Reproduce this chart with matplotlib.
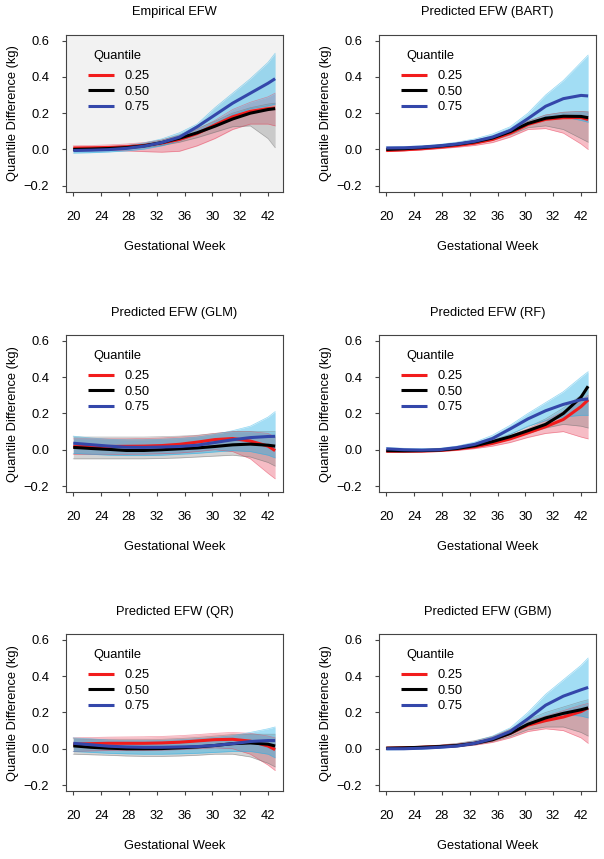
import numpy as np
import matplotlib
matplotlib.use("Agg")
import matplotlib.pyplot as plt

plt.rcParams['font.family'] = ['Liberation Sans', 'DejaVu Sans']

# gestational week grid (axis positions) for all curves
weeks = [20, 22, 24, 26, 28, 30, 32, 34, 36, 38, 40, 42, 42.8]
tick_labels = ['20', '24', '28', '32', '36', '30', '32', '42']
quantiles = ['0.25', '0.50', '0.75']

# ---- Empirical EFW ----
emp_q25 = [0.008, 0.009, 0.011, 0.015, 0.022, 0.035, 0.055, 0.088, 0.135, 0.18, 0.21, 0.225, 0.228]
emp_q50 = [0.0, 0.002, 0.005, 0.01, 0.02, 0.038, 0.062, 0.092, 0.128, 0.168, 0.2, 0.22, 0.225]
emp_q75 = [-0.006, -0.004, -0.001, 0.006, 0.018, 0.038, 0.068, 0.125, 0.19, 0.255, 0.31, 0.365, 0.39]
emp_q25_lo = [-0.005, -0.005, -0.006, -0.008, -0.012, -0.015, -0.01, 0.02, 0.06, 0.11, 0.14, 0.14, 0.13]
emp_q25_hi = [0.02, 0.022, 0.025, 0.03, 0.038, 0.052, 0.075, 0.11, 0.16, 0.22, 0.26, 0.29, 0.31]
emp_q50_lo = [-0.005, -0.004, -0.002, 0.002, 0.01, 0.022, 0.04, 0.065, 0.095, 0.125, 0.13, 0.06, 0.01]
emp_q50_hi = [0.008, 0.01, 0.013, 0.02, 0.032, 0.052, 0.08, 0.115, 0.155, 0.2, 0.23, 0.25, 0.255]
emp_q75_lo = [-0.02, -0.018, -0.014, -0.008, 0.002, 0.02, 0.048, 0.085, 0.14, 0.19, 0.225, 0.24, 0.25]
emp_q75_hi = [0.006, 0.01, 0.014, 0.022, 0.036, 0.058, 0.092, 0.14, 0.23, 0.31, 0.39, 0.48, 0.53]

# ---- Predicted EFW (BART) ----
bart_q25 = [-0.006, -0.002, 0.004, 0.012, 0.022, 0.035, 0.055, 0.09, 0.138, 0.166, 0.175, 0.176, 0.165]
bart_q50 = [0.0, 0.004, 0.01, 0.018, 0.028, 0.042, 0.063, 0.098, 0.143, 0.172, 0.183, 0.182, 0.175]
bart_q75 = [0.008, 0.009, 0.013, 0.02, 0.03, 0.045, 0.068, 0.105, 0.17, 0.238, 0.28, 0.298, 0.295]
bart_q25_lo = [-0.012, -0.008, -0.003, 0.004, 0.012, 0.022, 0.038, 0.068, 0.11, 0.115, 0.09, 0.03, 0.0]
bart_q25_hi = [0.004, 0.006, 0.012, 0.02, 0.03, 0.046, 0.07, 0.11, 0.155, 0.19, 0.205, 0.21, 0.205]
bart_q50_lo = [-0.006, -0.002, 0.004, 0.01, 0.02, 0.032, 0.05, 0.08, 0.12, 0.13, 0.11, 0.06, 0.04]
bart_q50_hi = [0.006, 0.01, 0.016, 0.024, 0.034, 0.05, 0.072, 0.11, 0.155, 0.19, 0.205, 0.21, 0.21]
bart_q75_lo = [0.0, 0.002, 0.006, 0.012, 0.022, 0.034, 0.055, 0.09, 0.14, 0.18, 0.18, 0.16, 0.15]
bart_q75_hi = [0.014, 0.016, 0.02, 0.028, 0.04, 0.058, 0.085, 0.125, 0.2, 0.3, 0.38, 0.48, 0.52]

# ---- Predicted EFW (GLM) ----
glm_q25 = [0.017, 0.018, 0.018, 0.019, 0.02, 0.023, 0.03, 0.042, 0.056, 0.062, 0.048, 0.02, -0.005]
glm_q50 = [0.013, 0.007, 0.002, -0.004, -0.004, 0.0, 0.005, 0.01, 0.018, 0.027, 0.031, 0.025, 0.02]
glm_q75 = [0.036, 0.028, 0.02, 0.014, 0.013, 0.015, 0.018, 0.025, 0.04, 0.055, 0.067, 0.073, 0.074]
glm_q25_lo = [-0.025, -0.025, -0.025, -0.025, -0.024, -0.022, -0.018, -0.01, 0.0, -0.01, -0.05, -0.13, -0.16]
glm_q25_hi = [0.06, 0.06, 0.06, 0.06, 0.062, 0.065, 0.07, 0.078, 0.09, 0.1, 0.1, 0.09, 0.07]
glm_q50_lo = [-0.05, -0.05, -0.05, -0.05, -0.05, -0.048, -0.045, -0.04, -0.035, -0.03, -0.04, -0.07, -0.09]
glm_q50_hi = [0.07, 0.07, 0.07, 0.07, 0.07, 0.072, 0.075, 0.08, 0.09, 0.1, 0.1, 0.1, 0.1]
glm_q75_lo = [-0.02, -0.025, -0.03, -0.032, -0.032, -0.03, -0.025, -0.02, -0.012, -0.005, -0.01, -0.03, -0.045]
glm_q75_hi = [0.075, 0.065, 0.058, 0.055, 0.055, 0.058, 0.062, 0.07, 0.085, 0.105, 0.13, 0.18, 0.21]

# ---- Predicted EFW (RF) ----
rf_q25 = [-0.008, -0.008, -0.007, -0.004, 0.004, 0.016, 0.035, 0.06, 0.093, 0.127, 0.167, 0.238, 0.275]
rf_q50 = [-0.005, -0.006, -0.005, -0.002, 0.007, 0.022, 0.045, 0.072, 0.105, 0.14, 0.2, 0.29, 0.35]
rf_q75 = [0.005, 0.0, -0.002, 0.0, 0.012, 0.03, 0.062, 0.115, 0.17, 0.215, 0.25, 0.276, 0.28]
rf_q25_lo = [-0.014, -0.014, -0.013, -0.01, -0.004, 0.006, 0.02, 0.04, 0.068, 0.09, 0.1, 0.07, 0.06]
rf_q25_hi = [-0.002, -0.002, 0.0, 0.004, 0.012, 0.026, 0.048, 0.078, 0.115, 0.16, 0.21, 0.27, 0.3]
rf_q50_lo = [-0.01, -0.01, -0.008, -0.005, 0.003, 0.015, 0.033, 0.058, 0.09, 0.12, 0.14, 0.13, 0.12]
rf_q50_hi = [0.0, 0.0, 0.002, 0.006, 0.014, 0.03, 0.054, 0.085, 0.125, 0.17, 0.23, 0.3, 0.34]
rf_q75_lo = [-0.004, -0.006, -0.007, -0.005, 0.004, 0.018, 0.044, 0.085, 0.13, 0.16, 0.18, 0.19, 0.19]
rf_q75_hi = [0.012, 0.008, 0.006, 0.008, 0.02, 0.042, 0.08, 0.135, 0.2, 0.26, 0.32, 0.4, 0.43]

# ---- Predicted EFW (QR) ----
qr_q25 = [0.025, 0.028, 0.03, 0.03, 0.03, 0.032, 0.036, 0.043, 0.05, 0.052, 0.042, 0.015, -0.005]
qr_q50 = [0.016, 0.008, 0.003, 0.0, 0.0, 0.001, 0.005, 0.01, 0.018, 0.028, 0.032, 0.025, 0.015]
qr_q75 = [0.03, 0.022, 0.014, 0.01, 0.008, 0.008, 0.01, 0.012, 0.018, 0.028, 0.04, 0.045, 0.045]
qr_q25_lo = [-0.015, -0.012, -0.01, -0.01, -0.01, -0.008, -0.005, 0.0, 0.005, 0.0, -0.03, -0.09, -0.12]
qr_q25_hi = [0.06, 0.062, 0.064, 0.065, 0.066, 0.068, 0.072, 0.078, 0.085, 0.09, 0.085, 0.07, 0.06]
qr_q50_lo = [-0.03, -0.033, -0.036, -0.04, -0.042, -0.042, -0.04, -0.036, -0.03, -0.03, -0.045, -0.08, -0.1]
qr_q50_hi = [0.055, 0.052, 0.05, 0.05, 0.05, 0.052, 0.056, 0.062, 0.07, 0.078, 0.08, 0.08, 0.08]
qr_q75_lo = [-0.015, -0.02, -0.025, -0.028, -0.03, -0.03, -0.028, -0.025, -0.02, -0.015, -0.015, -0.03, -0.05]
qr_q75_hi = [0.06, 0.055, 0.048, 0.045, 0.045, 0.046, 0.05, 0.055, 0.062, 0.072, 0.09, 0.11, 0.12]

# ---- Predicted EFW (GBM) ----
gbm_q25 = [0.003, 0.005, 0.008, 0.012, 0.018, 0.03, 0.05, 0.085, 0.13, 0.155, 0.175, 0.205, 0.225]
gbm_q50 = [0.003, 0.005, 0.008, 0.012, 0.018, 0.03, 0.05, 0.085, 0.135, 0.17, 0.195, 0.215, 0.225]
gbm_q75 = [0.0, 0.0, 0.003, 0.008, 0.015, 0.03, 0.055, 0.095, 0.165, 0.24, 0.29, 0.325, 0.338]
gbm_q25_lo = [-0.002, 0.0, 0.002, 0.005, 0.01, 0.02, 0.035, 0.06, 0.095, 0.11, 0.1, 0.06, 0.03]
gbm_q25_hi = [0.008, 0.01, 0.014, 0.02, 0.028, 0.042, 0.065, 0.105, 0.15, 0.18, 0.21, 0.24, 0.25]
gbm_q50_lo = [-0.002, 0.0, 0.003, 0.006, 0.012, 0.022, 0.04, 0.068, 0.105, 0.12, 0.12, 0.09, 0.07]
gbm_q50_hi = [0.008, 0.01, 0.014, 0.02, 0.03, 0.045, 0.068, 0.108, 0.16, 0.2, 0.23, 0.26, 0.27]
gbm_q75_lo = [-0.006, -0.005, -0.002, 0.003, 0.01, 0.022, 0.045, 0.08, 0.13, 0.17, 0.19, 0.18, 0.17]
gbm_q75_hi = [0.006, 0.006, 0.01, 0.016, 0.026, 0.042, 0.07, 0.115, 0.2, 0.3, 0.38, 0.46, 0.5]

panels = [
    ('Empirical EFW', [emp_q25, emp_q50, emp_q75],
     [(emp_q25_lo, emp_q25_hi), (emp_q50_lo, emp_q50_hi), (emp_q75_lo, emp_q75_hi)]),
    ('Predicted EFW (BART)', [bart_q25, bart_q50, bart_q75],
     [(bart_q25_lo, bart_q25_hi), (bart_q50_lo, bart_q50_hi), (bart_q75_lo, bart_q75_hi)]),
    ('Predicted EFW (GLM)', [glm_q25, glm_q50, glm_q75],
     [(glm_q25_lo, glm_q25_hi), (glm_q50_lo, glm_q50_hi), (glm_q75_lo, glm_q75_hi)]),
    ('Predicted EFW (RF)', [rf_q25, rf_q50, rf_q75],
     [(rf_q25_lo, rf_q25_hi), (rf_q50_lo, rf_q50_hi), (rf_q75_lo, rf_q75_hi)]),
    ('Predicted EFW (QR)', [qr_q25, qr_q50, qr_q75],
     [(qr_q25_lo, qr_q25_hi), (qr_q50_lo, qr_q50_hi), (qr_q75_lo, qr_q75_hi)]),
    ('Predicted EFW (GBM)', [gbm_q25, gbm_q50, gbm_q75],
     [(gbm_q25_lo, gbm_q25_hi), (gbm_q50_lo, gbm_q50_hi), (gbm_q75_lo, gbm_q75_hi)]),
]

thick_colors = ['#f21c1c', '#000000', '#3447aa']
thin_colors = ['#e8405a', '#707070', '#22aee6']
thin_alpha = [0.35, 0.3, 0.42]

fig = plt.figure(figsize=(6.04, 8.59), dpi=100)
W, H = 604, 859
lefts = [66, 379]
bottoms = [191.7, 492, 791]
aw, ah = 217, 156.7
fs = 9.3

for i, (title, curves, bands) in enumerate(panels):
    r, c = divmod(i, 2)
    ax = fig.add_axes([lefts[c] / W, 1 - bottoms[r] / H, aw / W, ah / H])
    if i == 0:
        ax.set_facecolor('#f2f2f2')

    # bootstrap spread drawn as a soft band with thin edges
    for (lo, hi), col, a in zip(bands, thin_colors, thin_alpha):
        ax.fill_between(weeks, lo, hi, color=col, alpha=a, lw=0)
        ax.plot(weeks, lo, color=col, lw=0.5, alpha=0.5)
        ax.plot(weeks, hi, color=col, lw=0.5, alpha=0.5)

    for vals, col, lab in zip(curves, thick_colors, quantiles):
        ax.plot(weeks, vals, color=col, lw=2.2, label=lab, solid_capstyle='butt')

    ax.set_xlim(19.18, 43.69)
    ax.set_ylim(-0.233, 0.631)
    ax.set_xticks(np.linspace(20, 42, 8))
    ax.set_xticklabels(tick_labels)
    ax.set_yticks([-0.2, 0.0, 0.2, 0.4, 0.6])
    ax.set_yticklabels(['\u22120.2', '0.0', '0.2', '0.4', '0.6'])
    ax.tick_params(axis='x', direction='out', length=3, width=0.8, color='#444444',
                   labelsize=fs, pad=11)
    ax.tick_params(axis='y', direction='out', length=3, width=0.8, color='#444444',
                   labelsize=fs, pad=9)
    for sp in ax.spines.values():
        sp.set_color('#444444')
        sp.set_linewidth(0.8)

    ax.text(0.5, 1 + 22.5 / ah, title, transform=ax.transAxes, ha='center', va='center',
            fontsize=fs)
    ax.text(-52.5 / aw, 0.5, 'Quantile Difference (kg)', transform=ax.transAxes,
            rotation=90, ha='center', va='center', fontsize=fs)
    ax.text(0.5, -55 / ah, 'Gestational Week', transform=ax.transAxes, ha='center',
            va='center', fontsize=fs)

    # legend: title placed as its own text, entries below it
    ax.text(51 / aw, 1 - 20.5 / ah, 'Quantile', transform=ax.transAxes, ha='center',
            va='center', fontsize=fs)
    leg = ax.legend(loc='upper left', bbox_to_anchor=(22 / aw, 1 - 35 / ah), frameon=False,
                    fontsize=fs, borderpad=0, borderaxespad=0,
                    handlelength=2.0, handletextpad=0.85, labelspacing=0.27)
    for h in leg.get_lines():
        h.set_linewidth(2.2)

fig.savefig('out.png', dpi=100)
